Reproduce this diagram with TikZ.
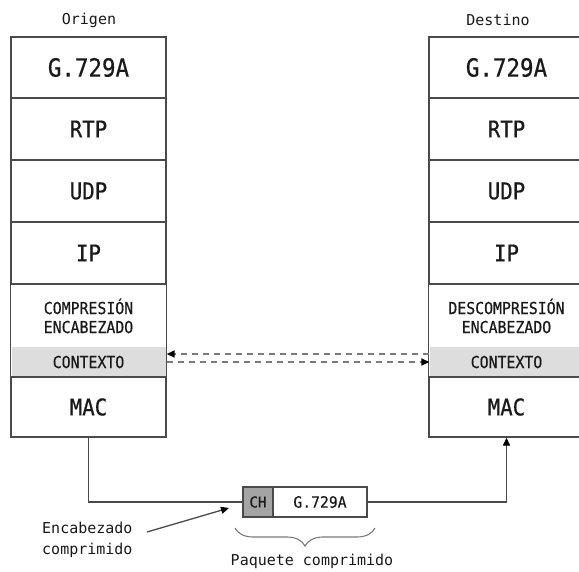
\documentclass[tikz,border=0pt]{standalone}
\usepackage{fontspec}
\setmonofont{DejaVu Sans Mono}
\newfontfamily\cmono[FakeStretch=0.9,FakeBold=0.6]{DejaVu Sans Mono}
\newfontfamily\pmono[FakeStretch=0.95,FakeBold=0.3]{DejaVu Sans Mono}
\usetikzlibrary{arrows.meta,calc,decorations.pathreplacing}
\definecolor{linec}{HTML}{4A4A4A}
\definecolor{txtc}{HTML}{1A1A1A}
\definecolor{ctxfill}{HTML}{DDDDDD}
\definecolor{chfill}{HTML}{A4A4A4}
\definecolor{dashc}{HTML}{7A7A7A}
\tikzset{
  layer/.style={draw=linec, line width=1.3pt, minimum width=155pt, minimum height=#1, inner sep=0pt, text=txtc, font=\cmono\fontsize{23}{24}\selectfont},
  gtext/.style={font=\cmono\fontsize{25}{26}\selectfont},
  smalltext/.style={font=\cmono\fontsize{16.5}{19}\selectfont, align=center},
  ctxbox/.style={fill=ctxfill, minimum width=154pt, minimum height=30pt, inner sep=0pt, text=txtc, font=\cmono\fontsize{16.5}{18}\selectfont},
  label/.style={font=\ttfamily\fontsize{15}{21}\selectfont, text=txtc, inner sep=0pt},
  conn/.style={draw=linec, line width=1.3pt},
  dasharrow/.style={draw=dashc, line width=1.8pt, dash pattern=on 6.5pt off 4.5pt},
  tip/.style={-{Triangle[length=8pt,width=7pt,color=black]}}
}
\begin{document}
\begin{tikzpicture}[x=1pt,y=-1pt]
\useasboundingbox (0,0) rectangle (579,571);
\fill[white] (0,0) rectangle (579,571);

% titles
\node[label] (torig) at (89,20) {Origen};
\node[label] (tdest) at (498,20) {Destino};

% left stack
\node[layer=61pt, gtext] (lg) at (88.5,67.5) {G.729A};
\node[layer=62pt] (lrtp) at (88.5,129) {RTP};
\node[layer=62pt] (ludp) at (88.5,191) {UDP};
\node[layer=62pt] (lip) at (88.5,253) {IP};
\node[ctxbox] (lctx) at (88.5,362) {CONTEXTO};
\node[smalltext, text=txtc, minimum width=155pt, minimum height=63pt, inner sep=0pt] (lcomp) at (88.5,316) {COMPRESIÓN\\ENCABEZADO};
\draw[draw=linec, line width=1.3pt] (lcomp.north west) rectangle (lctx.south east -| lcomp.east);
\node[layer=60pt] (lmac) at (88.5,407) {MAC};

% right stack
\node[layer=61pt, gtext] (rg) at (506.5,67.5) {G.729A};
\node[layer=62pt] (rrtp) at (506.5,129) {RTP};
\node[layer=62pt] (rudp) at (506.5,191) {UDP};
\node[layer=62pt] (rip) at (506.5,253) {IP};
\node[ctxbox] (rctx) at (506.5,362) {CONTEXTO};
\node[smalltext, text=txtc, minimum width=155pt, minimum height=63pt, inner sep=0pt] (rcomp) at (506.5,316) {DESCOMPRESIÓN\\ENCABEZADO};
\draw[draw=linec, line width=1.3pt] (rcomp.north west) rectangle (rctx.south east -| rcomp.east);
\node[layer=60pt] (rmac) at (506.5,407) {MAC};

% dashed context arrows
\draw[dasharrow, tip] ($(rctx.west)+(0,-8)$) -- ($(lctx.east)+(1,-8)$);
\draw[dasharrow, tip] ($(lctx.east)+(1,0)$) -- ($(rctx.west)+(0,0)$);

% compressed packet
\node[draw=linec, line width=1.3pt, fill=chfill, minimum width=30pt, minimum height=30pt, inner sep=0pt, font=\pmono\fontsize{15}{18}\selectfont, text=txtc] (ch) at (258,502) {CH};
\node[draw=linec, line width=1.3pt, fill=white, minimum width=94pt, minimum height=30pt, inner sep=0pt, font=\pmono\fontsize{15.5}{18}\selectfont, text=txtc] (pg) at (320,502) {G.729A};

% connectors
\draw[conn] (lmac.south) |- (ch.west);
\draw[conn, tip] (pg.east) -| (rmac.south);

% brace
\coordinate (bl) at (235,528);
\coordinate (br) at (375,528);
\draw[draw=dashc, line width=1.1pt, decoration={brace, amplitude=18pt, aspect=0.5}, decorate] (br) -- (bl);
\node[label] (paq) at (312,561) {Paquete comprimido};

% compressed header label
\node[label, anchor=west, align=left] (enc) at (42,540) {Encabezado\\comprimido};
\coordinate (encA) at (147,532);
\coordinate (encB) at (229,508);
\draw[conn, tip] (encA) -- (encB);
\end{tikzpicture}
\end{document}
